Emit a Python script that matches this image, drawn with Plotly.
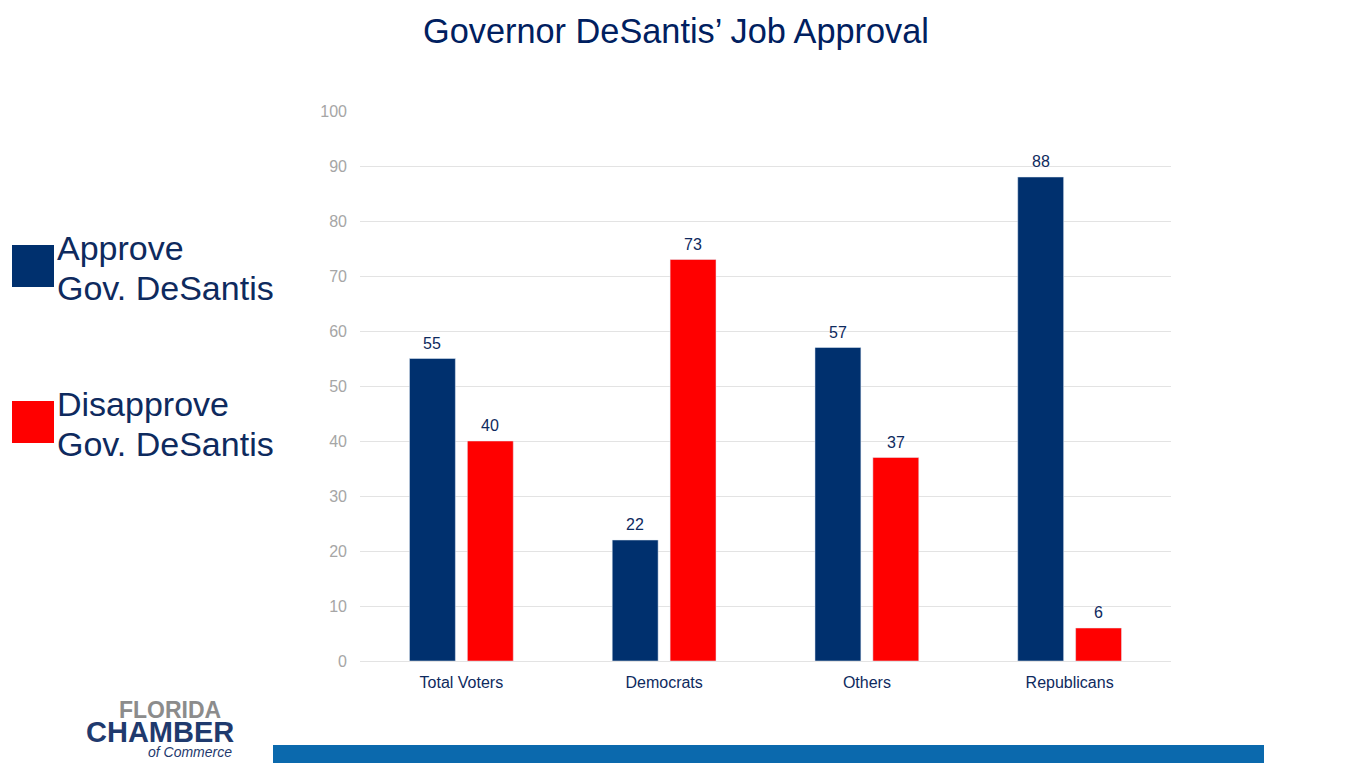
import plotly.graph_objects as go

categories = ["Total Voters", "Democrats", "Others", "Republicans"]
approve = [55, 22, 57, 88]
disapprove = [40, 73, 37, 6]
series_names = ["Approve<br>Gov. DeSantis", "Disapprove<br>Gov. DeSantis"]
title_text = "Governor DeSantis’ Job Approval"

NAVY = "#00306E"
RED = "#FF0000"
TEXT = "#0E2A5E"
FONT = "Liberation Sans, Arial, sans-serif"

# the page body has an 8px margin; figure drawn from (8, 8)
OFF = 8
W, H = 1347 - OFF, 763 - OFF
L, R, T, B = 360 - OFF, 176, 111 - OFF, 102
PW, PH = W - L - R, H - T - B

def px(x):
    return (x - OFF - L) / PW

def py(y):
    return (H - B - (y - OFF)) / PH

fig = go.Figure()
fig.add_trace(go.Bar(x=categories, y=approve, name="Approve", marker_color=NAVY))
fig.add_trace(go.Bar(x=categories, y=disapprove, name="Disapprove", marker_color=RED))

bargap, groupgap = 0.429, 0.207
slot = (1 - bargap) / 2

shapes = []
annotations = []
# data labels, positioned by data value above each bar
for vals, sign in [(approve, -1), (disapprove, 1)]:
    for i, v in enumerate(vals):
        annotations.append(dict(text=str(v), x=i + sign * slot / 2, y=v, xref="x", yref="y",
                                xanchor="center", yanchor="bottom", yshift=5, showarrow=False,
                                font=dict(size=16, color=TEXT, family=FONT)))
# legend squares and labels
for (y0, y1), color, name in [((245, 287), NAVY, series_names[0]), ((401, 443), RED, series_names[1])]:
    shapes.append(dict(type="rect", xref="paper", yref="paper", x0=px(12), x1=px(54),
                       y0=py(y1), y1=py(y0), fillcolor=color, line=dict(width=0)))
    lines = name.split("<br>")
    for i, ln in enumerate(lines):
        annotations.append(dict(text=ln, xref="paper", yref="paper", x=px(55), y=py(y0 + 3 + 40 * i),
                                xanchor="left", yanchor="middle", showarrow=False,
                                font=dict(size=34, color=TEXT, family=FONT)))
# bottom blue bar
shapes.append(dict(type="rect", xref="paper", yref="paper", x0=px(273), x1=px(1264),
                   y0=py(763), y1=py(745), fillcolor="#0B69AD", line=dict(width=0)))
# logo text
annotations.append(dict(text="<b>FLORIDA</b>", xref="paper", yref="paper", x=px(170), y=py(710),
                        xanchor="center", yanchor="middle", showarrow=False,
                        font=dict(size=23, color="#8C8C8C", family=FONT)))
annotations.append(dict(text="<b>CHAMBER</b>", xref="paper", yref="paper", x=px(160), y=py(732),
                        xanchor="center", yanchor="middle", showarrow=False,
                        font=dict(size=29, color="#1F3A6E", family=FONT)))
annotations.append(dict(text="<i>of Commerce</i>", xref="paper", yref="paper", x=px(234), y=py(752),
                        xanchor="right", yanchor="middle", showarrow=False,
                        font=dict(size=14, color="#1F3A6E", family=FONT)))

fig.update_layout(
    width=W, height=H,
    margin=dict(l=L, r=R, t=T, b=B),
    paper_bgcolor="white", plot_bgcolor="white",
    title=dict(text=title_text, x=(676 - OFF) / W, xanchor="center", y=1 - (31 - OFF) / H,
               yanchor="middle", font=dict(size=34.3, color="#002060", family=FONT)),
    barmode="group", bargap=bargap, bargroupgap=groupgap,
    showlegend=False,
    shapes=shapes, annotations=annotations,
    xaxis=dict(showgrid=False, showline=False, ticks="", range=[-0.5, 3.5],
               tickfont=dict(size=16, color=TEXT, family=FONT), ticklabelstandoff=10),
    yaxis=dict(range=[0, 100], dtick=10, showgrid=True, gridcolor="#E3E3E3", gridwidth=1,
               zeroline=True, zerolinecolor="#E3E3E3", zerolinewidth=1, showline=False,
               tickfont=dict(size=16, color="#A6A6A6", family=FONT), ticklabelstandoff=12),
)

fig.write_html("out.html")
